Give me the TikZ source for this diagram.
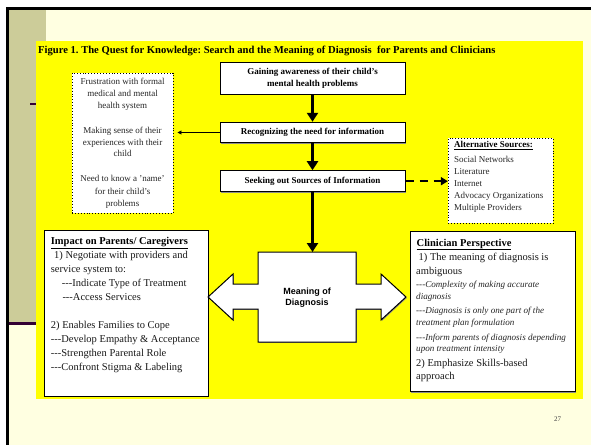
\documentclass[tikz,border=0pt]{standalone}
\usepackage{fontspec}
\setmainfont{Liberation Serif}
\newfontfamily\arialfont{Liberation Sans}
\usetikzlibrary{arrows.meta,shadows}
\definecolor{slidebg}{RGB}{255,255,225}
\definecolor{bandcol}{RGB}{204,204,153}
\definecolor{darkline}{RGB}{51,0,51}
\definecolor{figyellow}{RGB}{255,255,0}
\newcommand\thrhyph{-\kern0pt-\kern0pt-}
\frenchspacing
\begin{document}
\begin{tikzpicture}[x=1pt,y=-1pt,
  shadowed/.style={general shadow={fill=black!45, shadow xshift=0.9pt, shadow yshift=-0.9pt}},
  solidbox/.style={draw=black, line width=1pt, fill=white, inner sep=0pt, shadowed},
  dotbox/.style={draw=black, line width=0.9pt, dotted, fill=white, inner sep=0pt},
  flowtxt/.style={font=\fontsize{9}{11.6}\selectfont\bfseries, align=center},
  smalltxt/.style={font=\fontsize{9}{10}\selectfont, inner sep=0pt, text=black!85},
  bodytxt/.style={font=\fontsize{10.5}{12}\selectfont, inner sep=0pt, anchor=base west, text=black!90},
  ittxt/.style={font=\fontsize{9.1}{10}\selectfont\itshape, inner sep=0pt, anchor=base west, text=black!85},
  thickarrow/.style={line width=3pt, -{Triangle[length=9pt,width=11pt]}},
  thinarrow/.style={line width=0.8pt, -{Triangle[length=4pt,width=4pt]}, shorten >=4pt},
  dasharrow/.style={line width=2.5pt, dash pattern=on 8pt off 6pt, -{Triangle[length=7pt,width=8pt]}}
]
\useasboundingbox (0,0) rectangle (591,445);
% slide background
\fill[white] (0,0) rectangle (591,445);
\fill[slidebg] (9,9) rectangle (591,445);
\fill[bandcol] (9,9) rectangle (46,322);
\fill[darkline] (9,322) rectangle (46,324.5);
\fill[darkline] (30,103.3) rectangle (37,104.8);
\fill[black] (6,6.5) rectangle (591,9.5);
\fill[black] (6,6.5) rectangle (9,445);
% yellow figure area
\fill[figyellow] (36,41) rectangle (583,399);
\node[anchor=base west, inner sep=0pt, font=\fontsize{10.6}{12}\selectfont\bfseries] (title) at (38,53)
  {Figure 1. The Quest for Knowledge: Search and the Meaning of Diagnosis\ \ for Parents and Clinicians};

% flow boxes
\node[solidbox, minimum width=185pt, minimum height=32pt, flowtxt] (aware) at (312.5,78)
  {Gaining awareness of their child's\\mental health problems};
\node[solidbox, minimum width=185pt, minimum height=20.5pt, flowtxt] (recog) at (312.5,132.5)
  {Recognizing the need for information};
\node[solidbox, minimum width=185pt, minimum height=21pt, flowtxt] (seek) at (312.5,181.2)
  {Seeking out Sources of Information};

% left dotted box
\node[dotbox, minimum width=101pt, minimum height=140pt] (frust) at (122.5,143) {};
\node[smalltxt, anchor=base] (f1) at (122.5,84.8) {Frustration with formal};
\node[smalltxt, anchor=base] (f2) at (122.5,96.8) {medical and mental};
\node[smalltxt, anchor=base] (f3) at (122.5,108.8) {health system};
\node[smalltxt, anchor=base] (f4) at (122.5,133.5) {Making sense of their};
\node[smalltxt, anchor=base] (f5) at (122.5,145.8) {experiences with their};
\node[smalltxt, anchor=base] (f6) at (122.5,156.8) {child};
\node[smalltxt, anchor=base] (f7) at (122.5,181.5) {Need to know a 'name'};
\node[smalltxt, anchor=base] (f8) at (122.5,194.2) {for their child's};
\node[smalltxt, anchor=base] (f9) at (122.5,206.5) {problems};

% alternative sources box
\node[dotbox, minimum width=105pt, minimum height=85pt] (alt) at (500.8,180.8) {};
\node[smalltxt, anchor=base west, font=\fontsize{9}{10}\selectfont\bfseries, text=black] (a0) at (454,147.5) {\underline{Alternative Sources:}};
\node[smalltxt, anchor=base west] (a1) at (454,162.5) {Social Networks};
\node[smalltxt, anchor=base west] (a2) at (454,174.4) {Literature};
\node[smalltxt, anchor=base west] (a3) at (454,186.2) {Internet};
\node[smalltxt, anchor=base west] (a4) at (454,198.2) {Advocacy Organizations};
\node[smalltxt, anchor=base west] (a5) at (454,210.2) {Multiple Providers};

% impact box
\node[solidbox, minimum width=163.8pt, minimum height=166pt] (impact) at (126.4,313) {};
\node[bodytxt, font=\fontsize{10.5}{12}\selectfont\bfseries, text=black] (i0) at (50.7,244) {\underline{Impact on Parents/ Caregivers}};
\node[bodytxt] (i1) at (54,258) {1) Negotiate with providers and};
\node[bodytxt] (i2) at (50.7,272) {service system to:};
\node[bodytxt] (i3) at (61.7,286) {\thrhyph Indicate Type of Treatment};
\node[bodytxt] (i4) at (62.3,300) {\thrhyph Access Services};
\node[bodytxt] (i5) at (50.7,328) {2) Enables Families to Cope};
\node[bodytxt] (i6) at (50.7,342) {\thrhyph Develop Empathy \& Acceptance};
\node[bodytxt] (i7) at (50.7,356) {\thrhyph Strengthen Parental Role};
\node[bodytxt] (i8) at (50.7,370) {\thrhyph Confront Stigma \& Labeling};

% clinician box
\node[solidbox, minimum width=165pt, minimum height=160pt] (clin) at (492.5,311.7) {};
\node[bodytxt, font=\fontsize{10.5}{12}\selectfont\bfseries, text=black] (c0) at (416.5,246) {\underline{Clinician Perspective}};
\node[bodytxt] (c1) at (418.5,260) {1) The meaning of diagnosis is};
\node[bodytxt] (c2) at (416,274) {ambiguous};
\node[ittxt] (c3) at (416,287.5) {\thrhyph Complexity of making accurate};
\node[ittxt] (c4) at (416,299) {diagnosis};
\node[ittxt] (c5) at (416,313.5) {\thrhyph Diagnosis is only one part of the};
\node[ittxt] (c6) at (416,325) {treatment plan formulation};
\node[ittxt] (c7) at (416,340) {\thrhyph Inform parents of diagnosis depending};
\node[ittxt] (c8) at (416,351.5) {upon treatment intensity};
\node[bodytxt] (c9) at (416,366) {2) Emphasize Skills-based};
\node[bodytxt] (c10) at (416,379.5) {approach};

% central double arrow
\draw[fill=white, line width=1pt, shadowed]
  (258,252) -- (356,252) -- (356,284) -- (381,284) -- (381,274) -- (406,297) -- (381,320)
  -- (381,309) -- (356,309) -- (356,342) -- (258,342) -- (258,309) -- (233,309) -- (233,320)
  -- (208,297) -- (233,274) -- (233,284) -- (258,284) -- cycle;
\coordinate (mtop) at (307,252);
\node[font=\arialfont\fontsize{9}{11}\selectfont\bfseries, align=center, inner sep=0pt] (meaning) at (307,297.5)
  {Meaning of\\Diagnosis};

% connectors
\draw[thickarrow] (aware.south) -- (recog.north);
\draw[thickarrow] (recog.south) -- (seek.north);
\draw[thickarrow] (seek.south) -- (seek.south |- mtop);
\draw[thinarrow] (recog.west) -- (recog.west -| frust.east);
\draw[dasharrow] (seek.east) -- (seek.east -| alt.west);

\node[font=\fontsize{7}{8}\selectfont, text=black!75, inner sep=0pt] (pagenum) at (557.7,419) {27};
\end{tikzpicture}
\end{document}
